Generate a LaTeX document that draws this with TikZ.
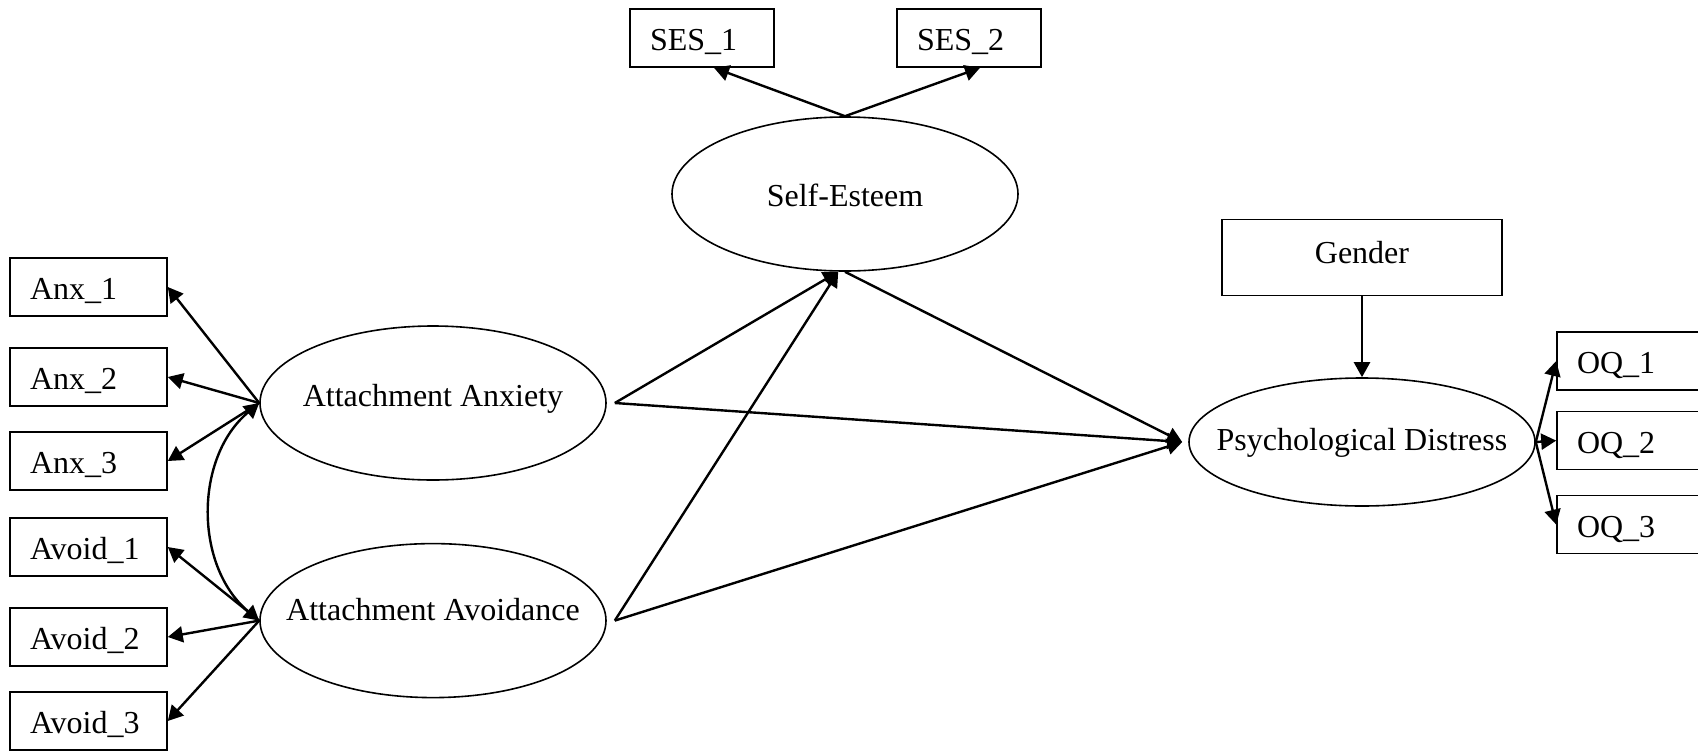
\documentclass[tikz,border=0pt]{standalone}
\usepackage{fontspec}
\setmainfont{Liberation Serif}
\usetikzlibrary{shapes.geometric}
\usetikzlibrary{positioning}
\usetikzlibrary{arrows.meta}

\begin{document}
\begin{tikzpicture}[font=\fontsize{16}{19}\selectfont]

\tikzset{
    myarrow/.style={-{Triangle[length=7.5pt,width=8pt]}, line width=1.2pt},
    covarrow/.style={{Triangle[length=7.5pt,width=8pt]}-{Triangle[length=7.5pt,width=8pt]}, line width=1.2pt},
    latent/.style={draw, ellipse, line width=0.8pt, inner sep=0pt, minimum width=173pt, minimum height=77pt,
        text height=11pt, text depth=4pt},
    obs/.style={draw, rectangle, line width=0.8pt, inner xsep=10pt, inner ysep=0pt,
        minimum height=29pt, text height=12.5pt, text depth=0pt, text width=#1, align=left}
}

\pgfmathsetmacro{\W}{58.5}

% Canvas
\useasboundingbox (0pt,0pt) rectangle (849pt,-375pt);

%%%%%%%%%%%%%%%%%%%%%%%%%%%%%%%%%%%%%%%%%%%%%%%%%%%%%%%%%
%                       Latent variables                %
%%%%%%%%%%%%%%%%%%%%%%%%%%%%%%%%%%%%%%%%%%%%%%%%%%%%%%%%%

\node[latent] (anx) at (216.5pt,-201.5pt) {\makebox[0pt]{\raisebox{2pt}{Attachment Anxiety}}};
\node[latent, below=31pt of anx] (avd) {\makebox[0pt]{\raisebox{3.5pt}{Attachment Avoidance}}};
\node[latent] (se) at (422.5pt,-97pt) {\makebox[0pt]{\raisebox{-2.75pt}{Self-Esteem}}};
\node[latent, minimum height=64pt] (pd) at (681pt,-221pt) {\makebox[0pt]{\raisebox{-0.75pt}{Psychological Distress}}};


%%% Left Indicators %%%

\node[obs=\W pt] (anx1) at (44.25pt,-143.5pt) {Anx\_1};
\node[obs=\W pt, below=15.2pt of anx1] (anx2) {Anx\_2};
\node[obs=\W pt, below=12.2pt of anx2] (anx3) {Anx\_3};
\node[obs=\W pt, below=13.2pt of anx3] (avd1) {Avoid\_1};
\node[obs=\W pt, below=15.2pt of avd1] (avd2) {Avoid\_2};
\node[obs=\W pt, below=12.2pt of avd2] (avd3) {Avoid\_3};

\draw[myarrow] (anx.west) -- (anx1.east);
\draw[myarrow] (anx.west) -- (anx2.east);
\draw[myarrow] (anx.west) -- (anx3.east);
\draw[myarrow] (avd.west) -- (avd1.east);
\draw[myarrow] (avd.west) -- (avd2.east);
\draw[myarrow] (avd.west) -- (avd3.east);

% Covariance
\draw[covarrow] (anx.west) to[out=220, in=140] (avd.west);


%%% Self-Esteem Indicators %%%

\node[obs=52pt] (ses1) at (351pt,-19pt) {SES\_1};
\node[obs=52pt] (ses2) at (484.5pt,-19pt) {SES\_2};
\draw[myarrow] (se.north) -- ([xshift=6pt]ses1.south);
\draw[myarrow] (se.north) -- ([xshift=5.5pt]ses2.south);


%%% Structural paths %%%

\draw[myarrow] ([xshift=4pt]anx.east) -- (se.265);
\draw[myarrow] ([xshift=4pt]avd.east) -- (se.265);
\draw[myarrow] ([xshift=4pt]anx.east) -- ([xshift=-3pt]pd.west);
\draw[myarrow] ([xshift=4pt]avd.east) -- ([xshift=-3pt]pd.west);
\draw[myarrow] (se.south) -- ([xshift=-3pt]pd.west);


%%% Right Branch %%%

% Block Gender
\node[draw, line width=0.8pt, minimum width=140pt, minimum height=38pt, above=40.5pt of pd] (gender) {\raisebox{5.2pt}{Gender}};
\draw[myarrow] (gender.south) -- (pd.north);

% Outcome indicators
\node[obs=\W pt] (oq1) at (817.75pt,-180.5pt) {OQ\_1};
\node[obs=\W pt, below=10pt of oq1] (oq2) {OQ\_2};
\node[obs=\W pt, below=12.2pt of oq2] (oq3) {OQ\_3};
\draw[myarrow] (pd.east) -- (oq1.west);
\draw[myarrow] (pd.east) -- (oq2.west);
\draw[myarrow] (pd.east) -- (oq3.west);

\end{tikzpicture}
\end{document}
